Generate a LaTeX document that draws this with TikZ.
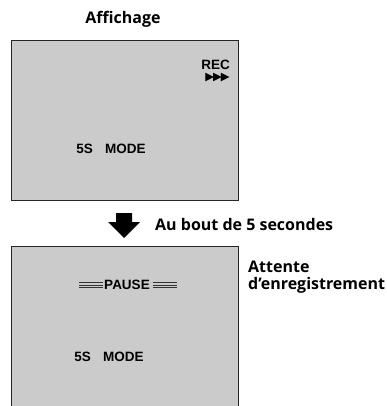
\documentclass[tikz,border=0pt]{standalone}
\usepackage{fontspec}
\setmainfont{Open Sans}
\newfontfamily\screenfont{Liberation Sans}
\newfontfamily\symfont{DejaVu Sans}
\usetikzlibrary{positioning,calc}
\definecolor{scrgray}{HTML}{CBCBCB}

\begin{document}
\begin{tikzpicture}[
  x=1pt, y=-1pt,
  screen/.style={draw=black!85, line width=1.3pt, fill=scrgray, minimum width=227pt, minimum height=#1, inner sep=0pt},
  screen/.default=160pt,
  scrtxt/.style={font=\screenfont\bfseries\fontsize{13.5}{14}\selectfont, inner sep=0pt},
  lbl/.style={font=\bfseries\fontsize{16}{17}\selectfont, inner sep=0pt, align=left},
  bar/.style={line width=0.9pt, black!80},
  ]
\useasboundingbox (0,0) rectangle (387,406);
% screens
\node[screen, anchor=north west] (scr1) at (11,40) {};
\node[screen=180pt, anchor=north west] (scr2) at (11,246) {};
% titles
\node[lbl] (affich) at (123,19) {Affichage};
\node[lbl, anchor=west] (delay) at (155,224) {Au bout de 5 secondes};
\node[lbl, anchor=north west] (wait) at (248,261) {Attente\\d’enregistrement};
% first screen
\node[scrtxt, anchor=east] (rec) at (230,65) {REC};
\node[inner sep=0pt, anchor=north east, font=\symfont\fontsize{11.5}{12}\selectfont] (ff) at ([yshift=-3pt]rec.south east) {▶\kern-1pt▶\kern-1pt▶};
\node[scrtxt] (mode1) at (111,149) {5S\hspace{0.9em}MODE};
% arrow between the screens
\coordinate (tip) at (124,238);
\fill (tip) -- ++(-16,-16) -- ++(8,0) -- ++(0,-9) -- ++(16,0) -- ++(0,9) -- ++(8,0) -- cycle;
% second screen
\node[scrtxt] (pause) at (127,285) {PAUSE};
\foreach \d in {-2.1,0,2.1} {
  \draw[bar] ([xshift=-25pt,yshift=\d pt]pause.west) -- ([xshift=-1pt,yshift=\d pt]pause.west);
  \draw[bar] ([xshift=3pt,yshift=\d pt]pause.east) -- ([xshift=27pt,yshift=\d pt]pause.east);
}
\node[scrtxt] (mode2) at (109,357) {5S\hspace{0.9em}MODE};
\end{tikzpicture}
\end{document}
